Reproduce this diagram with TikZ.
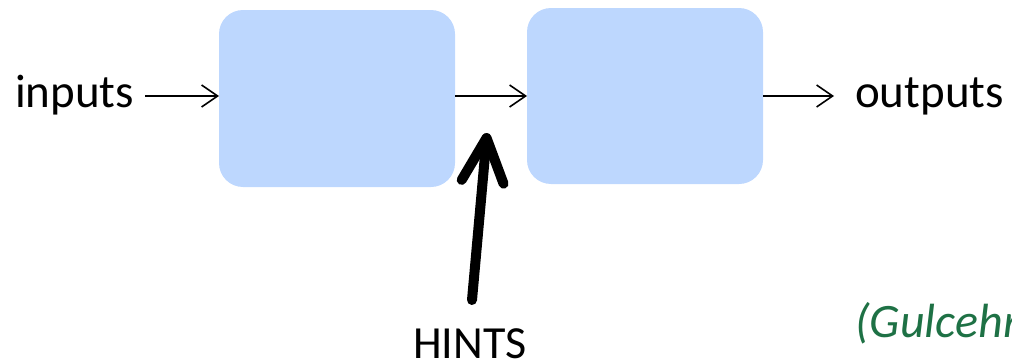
\documentclass[tikz,border=0pt]{standalone}
\usepackage{fontspec}
\setmainfont{Carlito}
\usetikzlibrary{arrows.meta}
\definecolor{boxblue}{HTML}{BDD7FE}
\definecolor{citegreen}{HTML}{1E7145}
\begin{document}
\begin{tikzpicture}[x=1pt,y=-1pt,
  block/.style={fill=boxblue, draw=none, rounded corners=24pt},
  lbl/.style={font=\fontsize{47}{56}\selectfont, inner sep=0pt, anchor=base west},
  thin/.style={line width=1.6pt, -{Straight Barb[length=16pt,width=22pt,line width=1.6pt]}},
  hint/.style={line width=10pt, line cap=round, -{Straight Barb[length=44pt,width=42pt,line cap=round,line join=round]}}]
\useasboundingbox (0,0) rectangle (1012,364);
\clip (0,0) rectangle (1012,364);
\fill[block] (219,10) rectangle (455,187);
\coordinate (b1w) at (219,96);
\coordinate (b1e) at (455,96);
\fill[block] (527,8) rectangle (763,184);
\coordinate (b2w) at (527,96);
\coordinate (b2e) at (763,96);
\node[lbl] (in) at (15,107) {inputs};
\node[lbl] (out) at (855,107) {outputs};
\node[lbl, font=\fontsize{46}{56}\selectfont] (hints) at (413,358) {HINTS};
\node[lbl, font=\fontsize{48}{56}\selectfont\itshape, text=citegreen] (cite) at (855,337) {(Gulcehre};
\coordinate (inE) at (145,96);
\coordinate (outW) at (834,96);
\coordinate (hs) at (472,300);
\coordinate (ht) at (487,133);
\draw[thin] (inE) -- (b1w);
\draw[thin] (b1e) -- (b2w);
\draw[thin] (b2e) -- (outW);
\draw[hint] (hs) -- (ht);
\end{tikzpicture}
\end{document}
